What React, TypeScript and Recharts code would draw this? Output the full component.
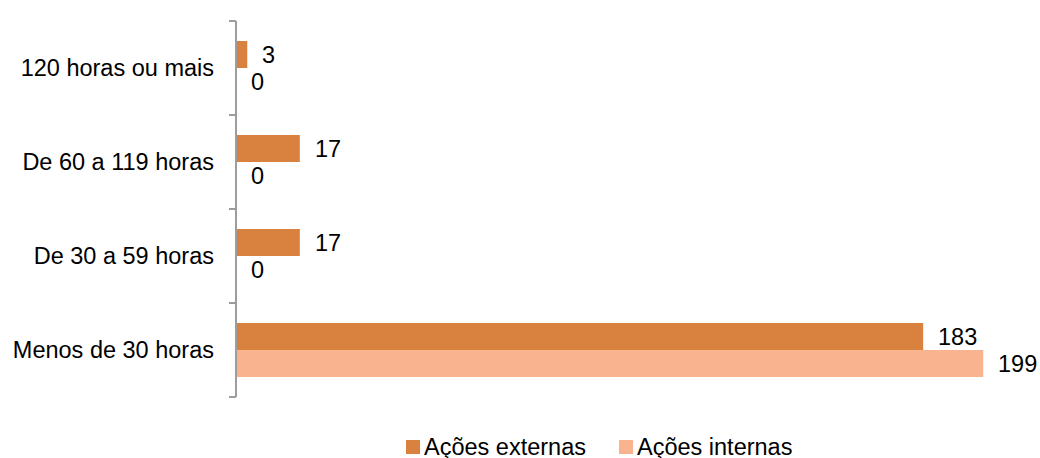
import { BarChart, Bar, XAxis, YAxis, Legend, LabelList } from "recharts";

const categories = [
  "120 horas ou mais",
  "De 60 a 119 horas",
  "De 30 a 59 horas",
  "Menos de 30 horas",
];
const externas = [3, 17, 17, 183];
const internas = [0, 0, 0, 199];
const seriesKeys = ["externas", "internas"];
const seriesNames = ["Ações externas", "Ações internas"];
const seriesColors = ["#D9823F", "#F9B48F"];

const data = categories.map((name, i) => ({
  name,
  externas: externas[i],
  internas: internas[i],
}));

const FONT = "'Liberation Sans', Arial, sans-serif";
const AXIS = "#9D9D9D";
const TICK_SIZE = 7;
const TICK_MARGIN = 15;
const LABEL_OFFSET = 15;

// category label + Excel-style tick marks between the bands
function CategoryTick(props: any) {
  const { x, y, payload, index } = props;
  const half = payload?.offset ?? 47;
  const axisX = x + TICK_SIZE + TICK_MARGIN;
  return (
    <g>
      <text
        x={x}
        y={y}
        dy="0.355em"
        textAnchor="end"
        fontSize={23.5}
        fontFamily={FONT}
        fill="#000">
        {payload.value}
      </text>
      {index === 0 && (
        <line
          x1={axisX - TICK_SIZE}
          x2={axisX}
          y1={y - half}
          y2={y - half}
          stroke={AXIS}
          strokeWidth={2}
        />
      )}
      <line
        x1={axisX - TICK_SIZE}
        x2={axisX}
        y1={y + half}
        y2={y + half}
        stroke={AXIS}
        strokeWidth={2}
      />
    </g>
  );
}

// value label to the right of the bar, also drawn for zero values
function ValueLabel(props: any) {
  const { x, y, width, height, value } = props;
  if (value == null) return null;
  return (
    <text
      x={Number(x) + Math.round(Number(width || 0)) + LABEL_OFFSET}
      y={Number(y) + Number(height) / 2}
      dy="0.355em"
      textAnchor="start"
      fontSize={23.5}
      fontFamily={FONT}
      fill="#000">
      {value}
    </text>
  );
}

function LegendContent() {
  return (
    <div style={{ height: 61, position: "relative" }}>
      <div
        style={{
          display: "flex",
          alignItems: "center",
          height: 22,
          marginTop: 39,
          paddingLeft: 406,
          fontFamily: FONT,
          fontSize: 23.5,
          color: "#000",
          whiteSpace: "nowrap",
        }}>
        {seriesNames.map((name, i) => (
          <div
            key={name}
            style={{ display: "flex", alignItems: "center", marginRight: 33 }}>
            <span
              style={{
                display: "inline-block",
                width: 14,
                height: 14,
                background: seriesColors[i],
                marginRight: 4,
              }}
            />
            <span>{name}</span>
          </div>
        ))}
      </div>
    </div>
  );
}

export default function App() {
  return (
    <div style={{ position: "absolute", left: 0, top: 0, background: "#fff" }}>
      <BarChart
        width={1040}
        height={458}
        data={data}
        layout="vertical"
        margin={{ top: 21, right: 53, bottom: 0, left: 0 }}
        barCategoryGap={20}
        barGap={0}>
        <XAxis type="number" domain={[0, 200]} hide />
        <YAxis
          type="category"
          dataKey="name"
          width={236}
          axisLine={{ stroke: AXIS, strokeWidth: 2 }}
          tickLine={false}
          tickSize={TICK_SIZE}
          tickMargin={TICK_MARGIN}
          tick={<CategoryTick />}
          interval={0}
        />
        <Legend
          verticalAlign="bottom"
          content={<LegendContent />}
          wrapperStyle={{ left: 0, width: 1040, height: 61 }}
        />
        {seriesKeys.map((key, i) => (
          <Bar
            key={key}
            dataKey={key}
            name={seriesNames[i]}
            fill={seriesColors[i]}
            minPointSize={0.01}
            isAnimationActive={false}>
            <LabelList dataKey={key} content={<ValueLabel />} />
          </Bar>
        ))}
      </BarChart>
    </div>
  );
}
